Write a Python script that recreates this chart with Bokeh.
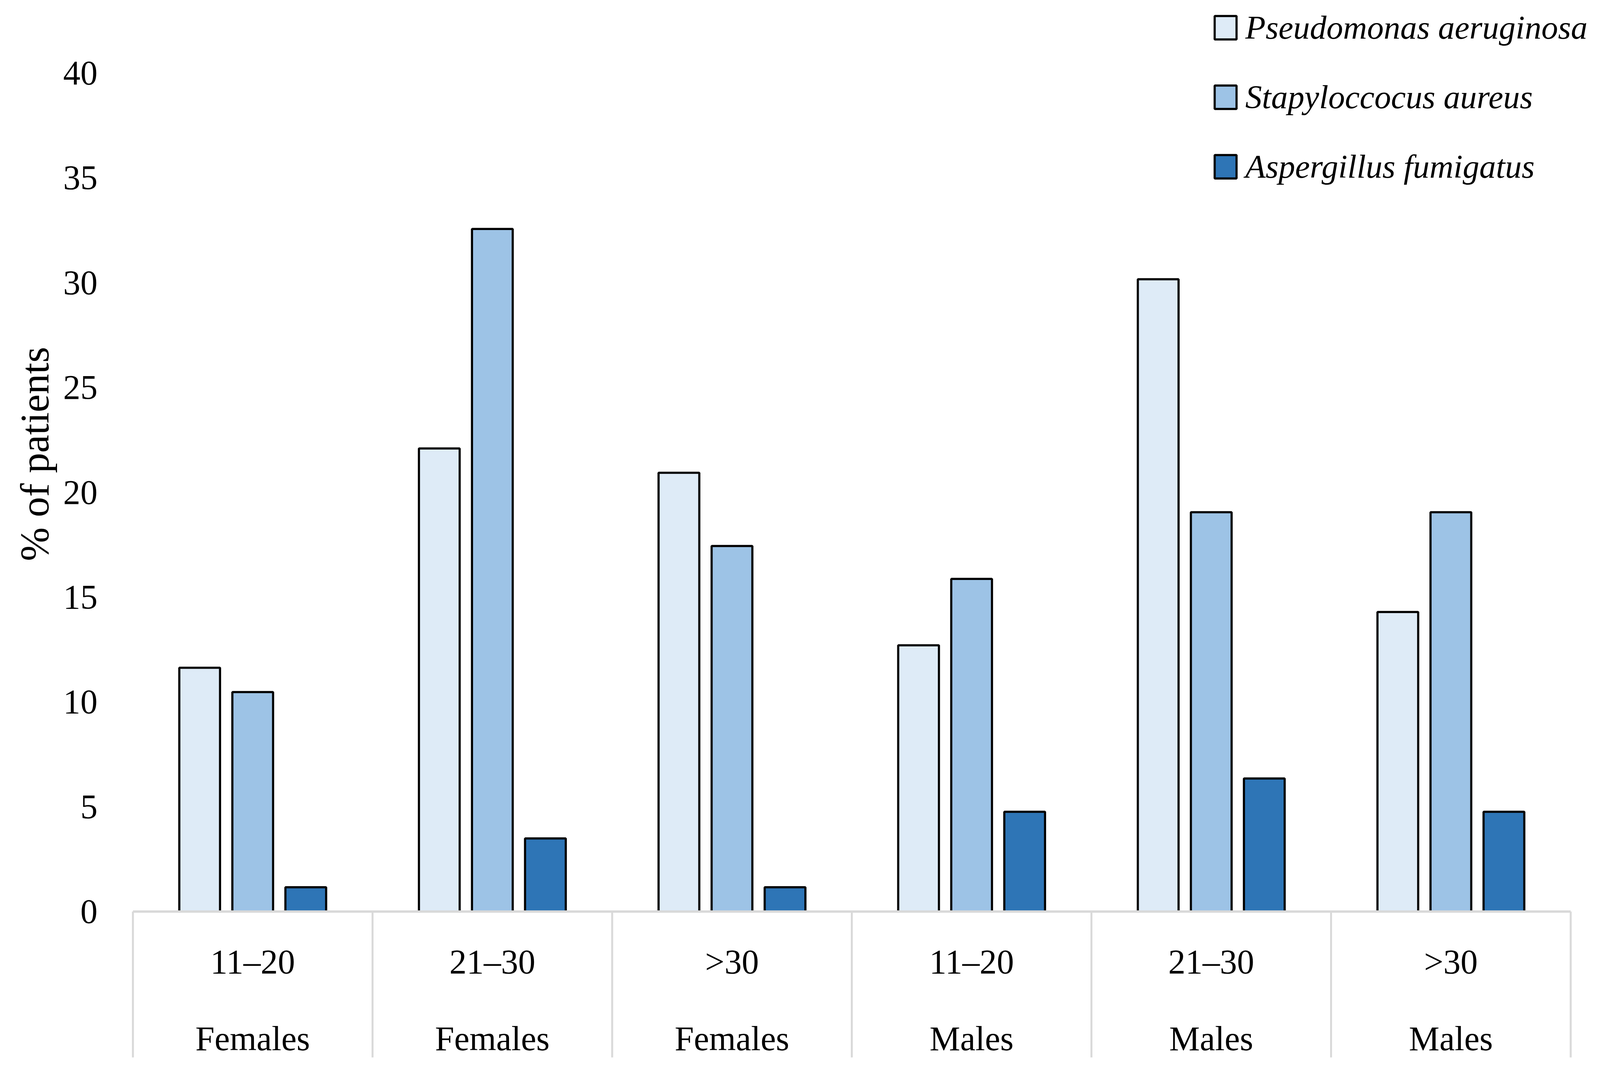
from bokeh.plotting import figure
from bokeh.models import ColumnDataSource, Legend, LegendItem, Range1d
from bokeh.core.properties import value
from bokeh.embed import file_html
from bokeh.resources import INLINE

# ---- data ----
age_groups = ["11–20", "21–30", ">30", "11–20", "21–30", ">30"]
sexes = ["Females", "Females", "Females", "Males", "Males", "Males"]
series_names = ["Pseudomonas aeruginosa", "Stapyloccocus aureus", "Aspergillus fumigatus"]
pseudomonas = [11.63, 22.09, 20.93, 12.70, 30.16, 14.29]
staphylococcus = [10.47, 32.56, 17.44, 15.87, 19.05, 19.05]
aspergillus = [1.16, 3.49, 1.16, 4.76, 6.35, 4.76]
y_ticks = [0, 5, 10, 15, 20, 25, 30, 35, 40]
y_tick_labels = [str(t) for t in y_ticks]
y_label = "% of patients"

# ---- style / geometry (reference pixels -> css pixels) ----
KX = 4101 / 4354   # visible viewport width / reference width
KY = 1.0

colors = ["#DEEBF7", "#9DC3E6", "#2E75B6"]
offsets = [-0.2214, 0.0, 0.2214]
bar_width = 0.17
FONT = "Liberation Serif"
FS = "88px"
GRID_GRAY = "#D9D9D9"

W, H = 4085, 2716
X0_REF, UX_REF = 369.2, 651.3      # category axis origin / unit (reference px)
Y0_REF, UY_REF = 2341.6, 53.68     # value axis origin / unit (reference px)

def xd(d):
    return (d - X0_REF) / UX_REF

def yd(d):
    return (Y0_REF - d) / UY_REF

left_ref, right_ref = 8 / KX, (8 + W) / KX
top_ref, bottom_ref = 8 / KY, (8 + H) / KY

p = figure(width=W, height=H, output_backend="svg", toolbar_location=None,
           x_axis_location=None, y_axis_location=None,
           min_border_left=0, min_border_right=0, min_border_top=0, min_border_bottom=0,
           x_range=Range1d(xd(left_ref), xd(right_ref)),
           y_range=Range1d(yd(bottom_ref), yd(top_ref)))
p.outline_line_color = None
p.grid.grid_line_color = None
p.background_fill_color = "white"
p.border_fill_color = "white"

n = len(age_groups)
centers = [i + 0.5 for i in range(n)]

renderers = []
for k, vals in enumerate([pseudomonas, staphylococcus, aspergillus]):
    src = ColumnDataSource(dict(x=[c + offsets[k] for c in centers], top=vals))
    r = p.vbar(x="x", top="top", bottom=0, width=bar_width, source=src,
               fill_color=colors[k], line_color="black", line_width=5.5)
    renderers.append(r)

# category axis: baseline, separators, labels
p.segment(x0=[0], y0=[0], x1=[n], y1=[0], line_color=GRID_GRAY, line_width=6)
p.segment(x0=list(range(n + 1)), y0=[0] * (n + 1), x1=list(range(n + 1)),
          y1=[yd(2715)] * (n + 1), line_color=GRID_GRAY, line_width=5)

p.text(x=centers, y=[yd(2470)] * n, text=age_groups, text_align="center",
       text_baseline="middle", text_font=value(FONT), text_font_size=FS,
       text_color="black")
p.text(x=centers, y=[yd(2667)] * n, text=sexes, text_align="center",
       text_baseline="middle", text_font=value(FONT), text_font_size=FS,
       text_color="black")

# value axis tick labels
p.text(x=[xd(273)] * len(y_ticks), y=y_ticks, text=y_tick_labels, text_align="right",
       text_baseline="middle", text_font=value(FONT), text_font_size=FS,
       text_color="black")

# value axis title
p.text(x=[xd(102)], y=[yd(1170)], text=[y_label], angle=1.5707963,
       text_align="center", text_baseline="middle", text_font=value(FONT),
       text_font_size="104px", text_color="black")

legend = Legend(items=[LegendItem(label=series_names[k], renderers=[renderers[k]]) for k in range(3)],
                location="top_right")
legend.margin = 21
legend.padding = 0
legend.border_line_color = None
legend.background_fill_alpha = 0
legend.glyph_width = 70
legend.glyph_height = 75
legend.label_standoff = 16
legend.spacing = 80
legend.label_text_font = FONT
legend.label_text_font_size = "85px"
legend.label_text_font_style = "italic"
legend.label_text_color = "black"
p.add_layout(legend)

open("out.html", "w").write(file_html(p, INLINE))
